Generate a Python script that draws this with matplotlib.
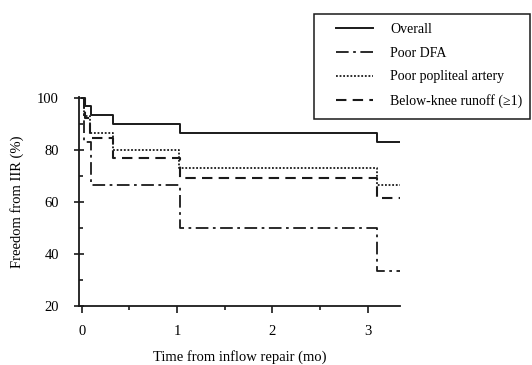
import matplotlib.pyplot as plt
from matplotlib.patches import Rectangle
from matplotlib.ticker import MultipleLocator

# Kaplan-Meier step data (time in months, freedom in %)
x_end = 3.34

overall_t = [0, 0.02, 0.10, 0.33, 1.03, 3.10]
overall_s = [100, 97.0, 93.7, 90.2, 86.6, 83.0]

dfa_t = [0, 0.025, 0.095, 1.03, 3.10]
dfa_s = [100, 83.3, 66.7, 50.0, 33.3]

popliteal_t = [0, 0.02, 0.085, 0.33, 1.02, 3.10]
popliteal_s = [100, 93.3, 86.7, 80.0, 73.3, 66.7]

bk_t = [0, 0.03, 0.09, 0.33, 1.03, 3.10]
bk_s = [100, 92.3, 84.6, 76.9, 69.2, 61.5]

labels = ["Overall", "Poor DFA", "Poor popliteal artery", "Below-knee runoff (\u22651)"]


def steps(t, s):
    """ Append the end of follow-up so the last step runs to the right. """
    return list(t) + [x_end], list(s) + [s[-1]]


def main():
    plt.rcParams['font.family'] = ['Liberation Serif', 'DejaVu Serif']
    fig = plt.figure(figsize=(5.32, 3.65), dpi=100)
    ax = fig.add_axes([79 / 532, 59 / 365, 321 / 532, 209 / 365])

    col = '#1a1a1a'
    styles = [
        dict(linestyle='-', linewidth=1.4),
        dict(linestyle=(0, (7, 2.5, 1.5, 2.5)), linewidth=1.3),
        dict(linestyle=(0, (1, 1)), linewidth=1.3),
        dict(linestyle=(0, (5, 3)), linewidth=1.5),
    ]
    series = [(overall_t, overall_s), (dfa_t, dfa_s),
              (popliteal_t, popliteal_s), (bk_t, bk_s)]

    for (t, s), st, lab in zip(series, styles, labels):
        tt, ss = steps(t, s)
        ax.step(tt, ss, where='post', color=col, label=lab, **st)

    ax.set_xlim(-0.028, x_end)
    ax.set_ylim(20, 100.5)

    for side in ['top', 'right']:
        ax.spines[side].set_visible(False)
    for side in ['left', 'bottom']:
        ax.spines[side].set_linewidth(1.3)
        ax.spines[side].set_color(col)

    ax.xaxis.set_major_locator(MultipleLocator(1))
    ax.xaxis.set_minor_locator(MultipleLocator(0.5))
    ax.yaxis.set_major_locator(MultipleLocator(20))
    ax.yaxis.set_minor_locator(MultipleLocator(10))

    ax.tick_params(axis='x', which='major', direction='out', length=5, width=1.2,
                   labelsize=10.5, pad=9, color=col)
    ax.tick_params(axis='x', which='minor', direction='out', length=3, width=1.2, color=col)
    ax.tick_params(axis='y', which='major', direction='inout', length=7, width=1.2,
                   labelsize=10.5, pad=11, color=col)
    ax.tick_params(axis='y', which='minor', direction='in', length=3, width=1.2, color=col)

    ax.set_xlabel("Time from inflow repair (mo)", fontsize=10.5, labelpad=8)
    ax.set_ylabel("Freedom from IIR (%)", fontsize=10.5, labelpad=9)

    # legend without its own frame; the box is drawn separately so it can reach the right edge
    ax.legend(loc='upper left', bbox_to_anchor=(333 / 532, 1 - 20 / 365),
              bbox_transform=fig.transFigure, borderaxespad=0, borderpad=0.2,
              fontsize=10, handlelength=2.7, handletextpad=1.2, labelspacing=0.78,
              frameon=False)
    fig.patches.append(Rectangle((314 / 532, 1 - 119 / 365), 216 / 532, 105 / 365,
                                 transform=fig.transFigure, fill=False,
                                 edgecolor=col, linewidth=1.1))

    fig.savefig("out.png", dpi=100)


if __name__ == '__main__':
    main()
